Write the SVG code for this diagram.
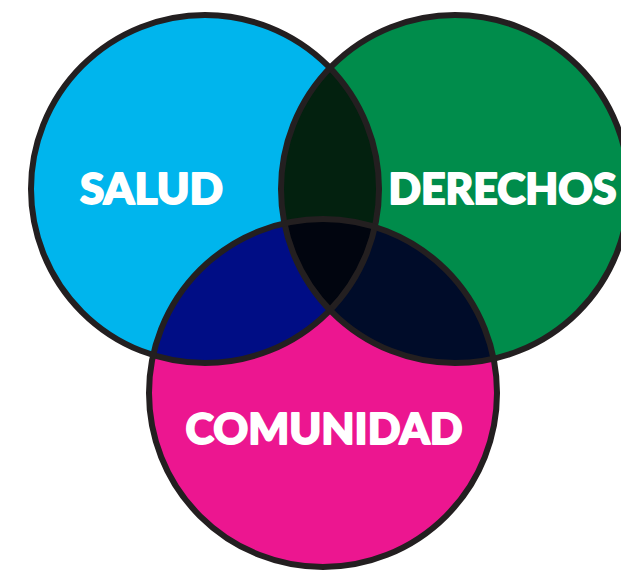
<svg xmlns="http://www.w3.org/2000/svg" width="621" height="570" viewBox="0 0 621 570">
  <style>
    .ring { fill: none; stroke: #231f20; stroke-width: 6; }
    .lbl { font-family: "Lato", "Open Sans", "Liberation Sans", sans-serif; font-weight: 900; font-size: 42px; fill: #ffffff; stroke: #ffffff; stroke-width: 1.8; stroke-linejoin: round; }
  </style>
  <defs>
    <clipPath id="cBlue"><circle cx="205" cy="189" r="174"/></clipPath>
    <clipPath id="cGreen"><circle cx="455" cy="189" r="174"/></clipPath>
    <clipPath id="cPink"><circle cx="323" cy="393" r="174"/></clipPath>
  </defs>
  <rect width="621" height="570" fill="#ffffff"/>
  <g id="salud">
    <circle cx="205" cy="189" r="174" fill="#00b5ed"/>
  </g>
  <g id="derechos">
    <circle cx="455" cy="189" r="174" fill="#008c4b"/>
  </g>
  <g id="comunidad">
    <circle cx="323" cy="393" r="174" fill="#ec1690"/>
  </g>
  <g id="overlaps">
    <g clip-path="url(#cBlue)"><circle cx="455" cy="189" r="174" fill="#03210f"/></g>
    <g clip-path="url(#cBlue)"><circle cx="323" cy="393" r="174" fill="#000d85"/></g>
    <g clip-path="url(#cGreen)"><circle cx="323" cy="393" r="174" fill="#000c29"/></g>
    <g clip-path="url(#cBlue)"><g clip-path="url(#cGreen)"><circle cx="323" cy="393" r="174" fill="#01050f"/></g></g>
  </g>
  <g id="outlines">
    <circle class="ring" cx="205" cy="189" r="174"/>
    <circle class="ring" cx="455" cy="189" r="174"/>
    <circle class="ring" cx="323" cy="393" r="174"/>
  </g>
  <g id="labels">
    <text class="lbl" x="151.5" y="204" text-anchor="middle" textLength="143" lengthAdjust="spacingAndGlyphs">SALUD</text>
    <text class="lbl" x="502.5" y="204" text-anchor="middle" textLength="228" lengthAdjust="spacingAndGlyphs">DERECHOS</text>
    <text class="lbl" x="324" y="444" text-anchor="middle" textLength="277" lengthAdjust="spacingAndGlyphs">COMUNIDAD</text>
  </g>
</svg>
